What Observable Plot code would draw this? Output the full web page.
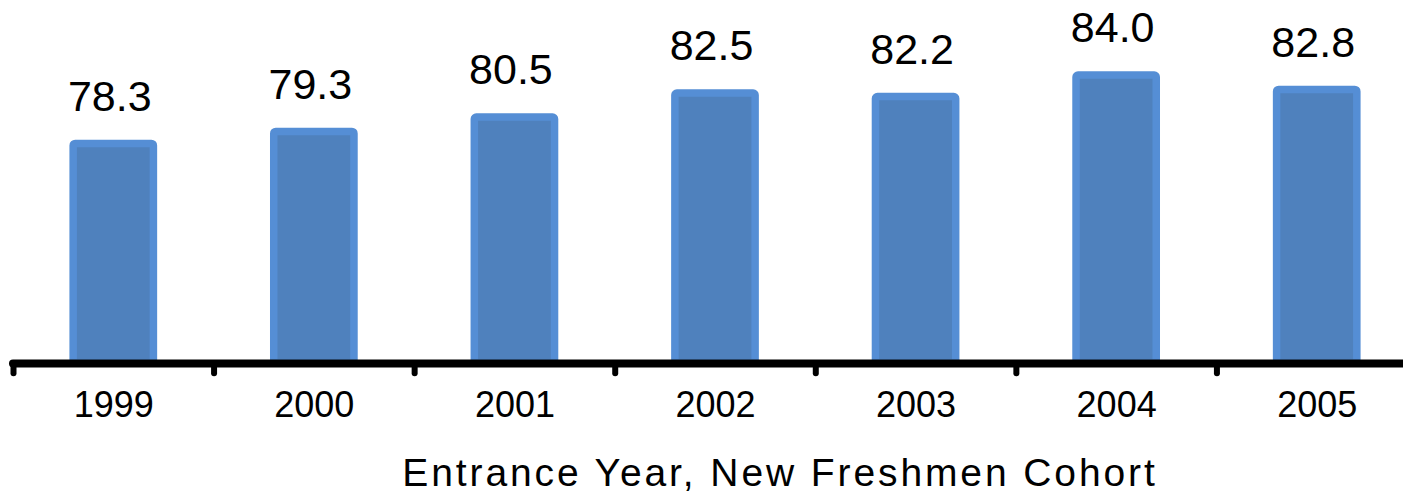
<!DOCTYPE html>
<html>
<head>
<meta charset="utf-8">
<script src="https://cdn.jsdelivr.net/npm/d3@7"></script>
<script src="https://cdn.jsdelivr.net/npm/@observablehq/plot@0.6"></script>
<style>
  html, body { margin: 0; padding: 0; background: #fff; overflow: hidden; }
  #chart { width: 1403px; height: 492px; }
</style>
</head>
<body>
<div id="chart"></div>
<script>
const years = [1999, 2000, 2001, 2002, 2003, 2004, 2005];
const rates = [78.3, 79.3, 80.5, 82.5, 82.2, 84.0, 82.8];
const boundaries = [1998.5, 1999.5, 2000.5, 2001.5, 2002.5, 2003.5, 2004.5];
const xTitle = "Entrance Year, New Freshmen Cohort";

const data = years.map((y, i) => ({year: y, rate: rates[i]}));
const font = "'Liberation Sans', Arial, sans-serif";

const chart = Plot.plot({
  width: 1403,
  height: 492,
  marginTop: 0, marginBottom: 129, marginLeft: 0, marginRight: 0,
  style: {fontFamily: font, background: "#fff", overflow: "visible"},
  x: {type: "linear", domain: [1998.5, 2005.5], range: [13, 1417], axis: null},
  y: {domain: [60, 90], range: [363, 3], axis: null},
  marks: [
    Plot.rectY(data, {
      x1: d => d.year - 0.2, x2: d => d.year + 0.2,
      y1: 60, y2: "rate",
      fill: "#4F81BD", stroke: "#558ED5", strokeWidth: 7.5, rx: 2
    }),
    Plot.text(data, {
      x: "year", y: "rate", text: d => d.rate.toFixed(1),
      dx: -4, dy: -47, lineAnchor: "middle",
      fontSize: 43, fill: "#000", fontFamily: font
    }),
    Plot.ruleX(boundaries, {
      y1: 60, y2: 59.15, stroke: "#000", strokeWidth: 6, strokeLinecap: "round"
    }),
    Plot.ruleY([60], {
      x1: 1998.5, x2: 2005.5, stroke: "#000", strokeWidth: 8, strokeLinecap: "round"
    }),
    Plot.axisX({
      ticks: years, tickFormat: d => String(d), tickSize: 0, tickPadding: 28,
      fontSize: 36, fill: "#000", fontFamily: font, label: null
    }),
    Plot.text([xTitle], {
      frameAnchor: "bottom", dx: 78, dy: 110.5, lineAnchor: "middle",
      fontSize: 39, fill: "#000", fontFamily: font
    })
  ]
});
const textGroups = chart.querySelectorAll('g[aria-label="text"]');
const titleGroup = textGroups[textGroups.length - 1];
if (titleGroup) titleGroup.style.letterSpacing = "2.9px";
document.getElementById("chart").appendChild(chart);
</script>
</body>
</html>
